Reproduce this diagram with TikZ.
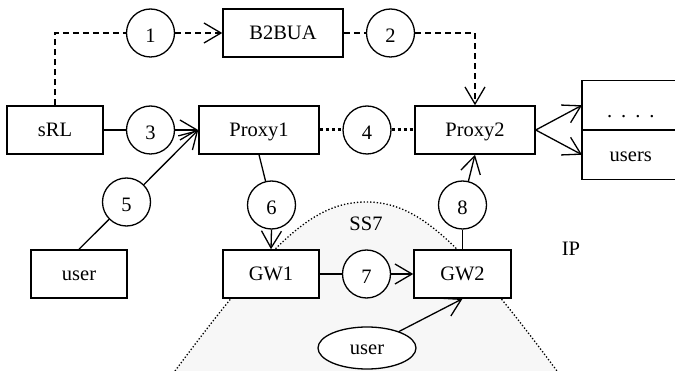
\documentclass[tikz,border=0pt]{standalone}
\usepackage{fontspec}
\setmainfont{Liberation Serif}
\usetikzlibrary{arrows.meta,shapes.geometric}
\newcommand\fsz{\fontsize{20.5}{20.5}\selectfont}
\begin{document}
\begin{tikzpicture}[x=1pt,y=-1pt,
  box/.style={draw,line width=1.5pt,fill=white,minimum width=120pt,minimum height=48pt,inner sep=0pt,text height=13pt,text depth=0pt,font=\fsz},
  num/.style={draw,circle,line width=1.3pt,fill=white,minimum size=48pt,inner sep=0pt,text height=20pt,text depth=0pt,font=\fsz},
  lbl/.style={inner sep=0pt,font=\fsz},
  ln/.style={line width=1.3pt},
  arr/.style={ln,-{Straight Barb[length=17pt,width=20pt]}},
  dsh/.style={dash pattern=on 6pt off 4pt},
  dts/.style={line width=3pt,dash pattern=on 3pt off 3pt},
  region/.style={line width=1.3pt,dash pattern=on 1.3pt off 2pt}]
\useasboundingbox (0,0) rectangle (675,371);
\clip (0,0) rectangle (675,371);
% SS7 region
\fill[black!3] (175,371) .. controls (275,236) and (316,202) .. (366,202)
  .. controls (416,202) and (457,236) .. (557,371) -- cycle;
\draw[region] (175,371) .. controls (275,236) and (316,202) .. (366,202)
  .. controls (416,202) and (457,236) .. (557,371);
\node[lbl] (ss7) at (366,224) {SS7};
\node[lbl] (ip) at (571,249) {IP};
% nodes
\node[box] (b2bua) at (283,33) {B2BUA};
\node[num] (c1) at (150.5,33) {1};
\node[num] (c2) at (390.5,33) {2};
\node[box,minimum width=96pt] (srl) at (55,130) {sRL};
\node[num] (c3) at (150.5,130) {3};
\node[box] (p1) at (259,130) {Proxy1};
\node[num] (c4) at (367,130) {4};
\node[box] (p2) at (475,130) {Proxy2};
% users table (right part runs off the picture)
\node[box,draw=none,minimum width=96pt,text height=24pt,anchor=south west] (ut) at (582,130) {.\hspace{9pt}.\hspace{9pt}.\hspace{9pt}.};
\node[box,draw=none,fill=none,minimum width=96pt,anchor=north west] (ub) at (582,130) {users};
\draw[line width=1.5pt] (ut.north west) rectangle ([xshift=30pt]ub.south east);
\draw[line width=1.5pt] (ut.south west) -- ([xshift=30pt]ut.south east);
\node[num] (c5) at (126.5,202) {5};
\node[num] (c6) at (271.5,205) {6};
\node[num] (c8) at (462.5,205) {8};
\node[box,minimum width=96pt] (usr) at (79,274) {user};
\node[box,minimum width=96pt] (gw1) at (271,274) {GW1};
\node[num] (c7) at (366.5,274) {7};
\node[box,minimum width=97pt] (gw2) at (462.5,274) {GW2};
\node[draw,ellipse,line width=1.3pt,fill=white,minimum width=98pt,minimum height=42pt,inner sep=0pt,text height=13pt,text depth=0pt,font=\fsz] (usr2) at (367,348) {user};
% connectors
\draw[ln,dsh] (srl.north) |- (c1.west);
\draw[arr,dsh] (c1.east) -- (b2bua.west);
\draw[ln,dsh] (b2bua.east) -- (c2.west);
\draw[arr,dsh] (c2.east) -| (p2.north);
\draw[ln] (srl.east) -- (c3.west);
\draw[arr] (c3.east) -- (p1.west);
\draw[ln] (usr.north) -- (c5);
\draw[arr] (c5) -- (p1.west);
\draw[dts] (p1.east) -- (c4.west);
\draw[dts] (c4.east) -- (p2.west);
\draw[arr] (p2.east) -- (ut.west);
\draw[arr] (p2.east) -- (ub.west);
\draw[ln] (p1.south) -- (c6);
\draw[arr] (c6.south) -- (gw1.north);
\draw[ln] (gw1.east) -- (c7.west);
\draw[arr] (c7.east) -- (gw2.west);
\draw[ln] (gw2.north) -- (c8);
\draw[arr] (c8) -- (p2.south);
\draw[arr] (usr2) -- (gw2.south);
\end{tikzpicture}
\end{document}
